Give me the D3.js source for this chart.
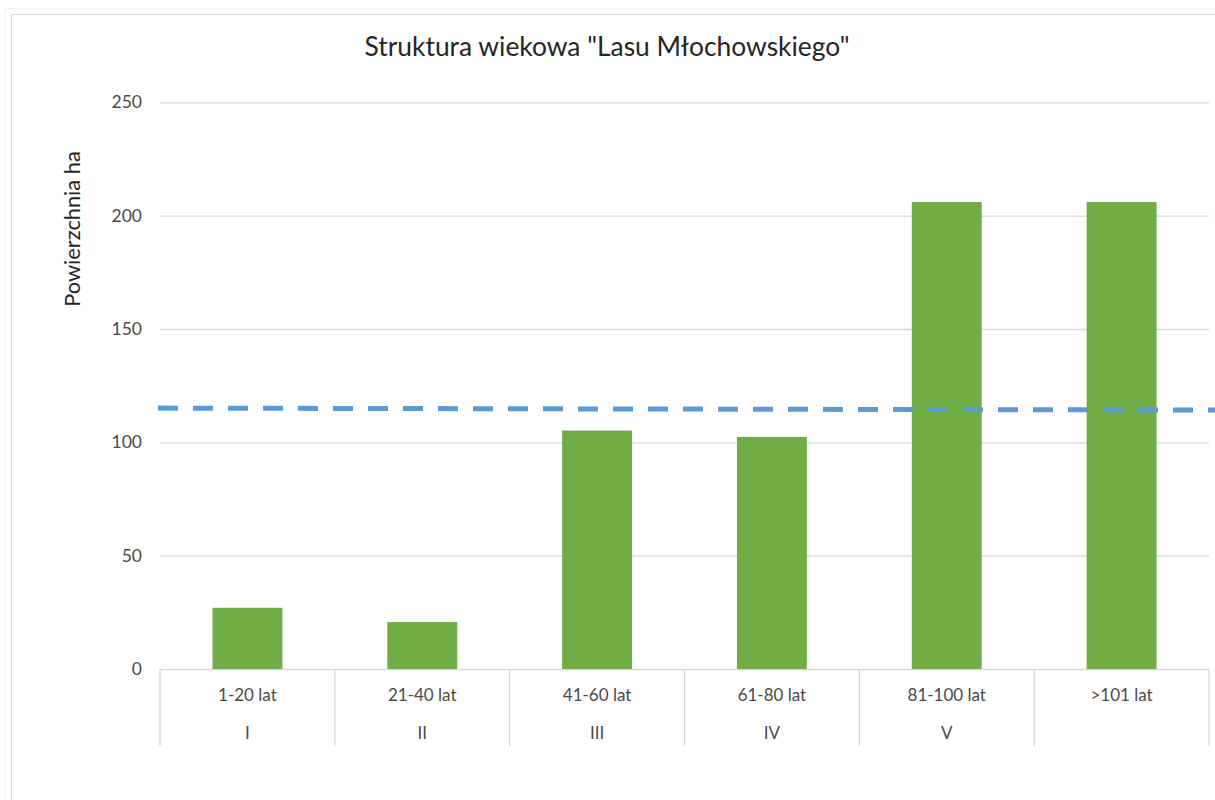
<!DOCTYPE html>
<html>
<head>
<meta charset="utf-8">
<script src="https://cdn.jsdelivr.net/npm/d3@7"></script>
<style>
  body { margin: 0; background: #fff; }
  text { font-family: Lato, "Open Sans", sans-serif; }
</style>
</head>
<body>
<svg id="chart"></svg>
<script>
// age-structure data
const ageRanges = ['1-20 lat', '21-40 lat', '41-60 lat', '61-80 lat', '81-100 lat', '>101 lat'];
const ageClasses = ['I', 'II', 'III', 'IV', 'V', ''];
const areaHa = [27, 20.7, 105.2, 102.4, 206, 206];
const yTicks = [0, 50, 100, 150, 200, 250];
// dashed reference line (category units, ha)
const refLinePos = [0, 6.2];
const refLineValues = [115.1, 114.2];

const W = 1215, H = 800;
const m = { left: 160, right: 1209, top: 102.3, bottom: 669 };

const svg = d3.select('#chart').attr('width', W).attr('height', H);

// chart frame
svg.append('rect').attr('x', 4.5).attr('y', 8.5).attr('width', W + 20).attr('height', H + 20)
  .attr('fill', 'none').attr('stroke', '#f2f2f2');
svg.append('rect').attr('x', 11.5).attr('y', 14.5).attr('width', W + 20).attr('height', H + 20)
  .attr('fill', '#fff').attr('stroke', '#d9d9d9');

const x = d3.scaleBand().domain(ageRanges).range([m.left, m.right]).paddingInner(0.6).paddingOuter(0.3);
const xLin = d3.scaleLinear().domain([0, ageRanges.length]).range([m.left, m.right]);
const y = d3.scaleLinear().domain([0, 250]).range([m.bottom, m.top]);

// gridlines + y labels
const yAxis = svg.append('g').attr('transform', `translate(${m.left},0)`)
  .call(d3.axisLeft(y).tickValues(yTicks).tickSize(-(m.right - m.left)).tickPadding(18));
yAxis.select('.domain').remove();
yAxis.selectAll('.tick line').attr('stroke', '#d9d9d9').attr('stroke-width', 1.3);
yAxis.selectAll('.tick text').attr('fill', '#4a4a4a').style('font-size', '17.5px');

// category separators
const bounds = d3.range(ageRanges.length + 1).map(i => xLin(i));
svg.append('g').selectAll('line').data(bounds).enter().append('line')
  .attr('x1', d => d).attr('x2', d => d)
  .attr('y1', m.bottom).attr('y2', 746)
  .attr('stroke', '#d9d9d9').attr('stroke-width', 1.3);

// bars
svg.append('g').selectAll('rect').data(areaHa).enter().append('rect')
  .attr('x', (d, i) => x(ageRanges[i]))
  .attr('width', x.bandwidth())
  .attr('y', d => y(d))
  .attr('height', d => y(0) - y(d))
  .attr('fill', '#70ad47');

// dashed line
svg.append('path')
  .datum(refLinePos.map((p, i) => [p, refLineValues[i]]))
  .attr('fill', 'none')
  .attr('stroke', '#5b9bd5')
  .attr('stroke-width', 5)
  .attr('stroke-dasharray', '20,15')
  .attr('d', d3.line().x(d => xLin(d[0]) - 2).y(d => y(d[1])));

// category labels, two rows
svg.append('g').selectAll('text').data(ageRanges).enter().append('text')
  .attr('x', d => x(d) + x.bandwidth() / 2)
  .attr('y', 701)
  .attr('text-anchor', 'middle')
  .attr('fill', '#4a4a4a')
  .style('font-size', '17px')
  .text(d => d);
svg.append('g').selectAll('text').data(ageClasses).enter().append('text')
  .attr('x', (d, i) => x(ageRanges[i]) + x.bandwidth() / 2)
  .attr('y', 739)
  .attr('text-anchor', 'middle')
  .attr('fill', '#4a4a4a')
  .style('font-size', '17px')
  .text(d => d);

// title
svg.append('text')
  .attr('x', 607).attr('y', 56)
  .attr('text-anchor', 'middle')
  .attr('fill', '#262626')
  .style('font-size', '26.4px')
  .text('Struktura wiekowa "Lasu Młochowskiego"');

// y axis title
svg.append('text')
  .attr('transform', 'translate(80,229) rotate(-90)')
  .attr('text-anchor', 'middle')
  .attr('fill', '#262626')
  .style('font-size', '21.8px')
  .text('Powierzchnia ha');
</script>
</body>
</html>
